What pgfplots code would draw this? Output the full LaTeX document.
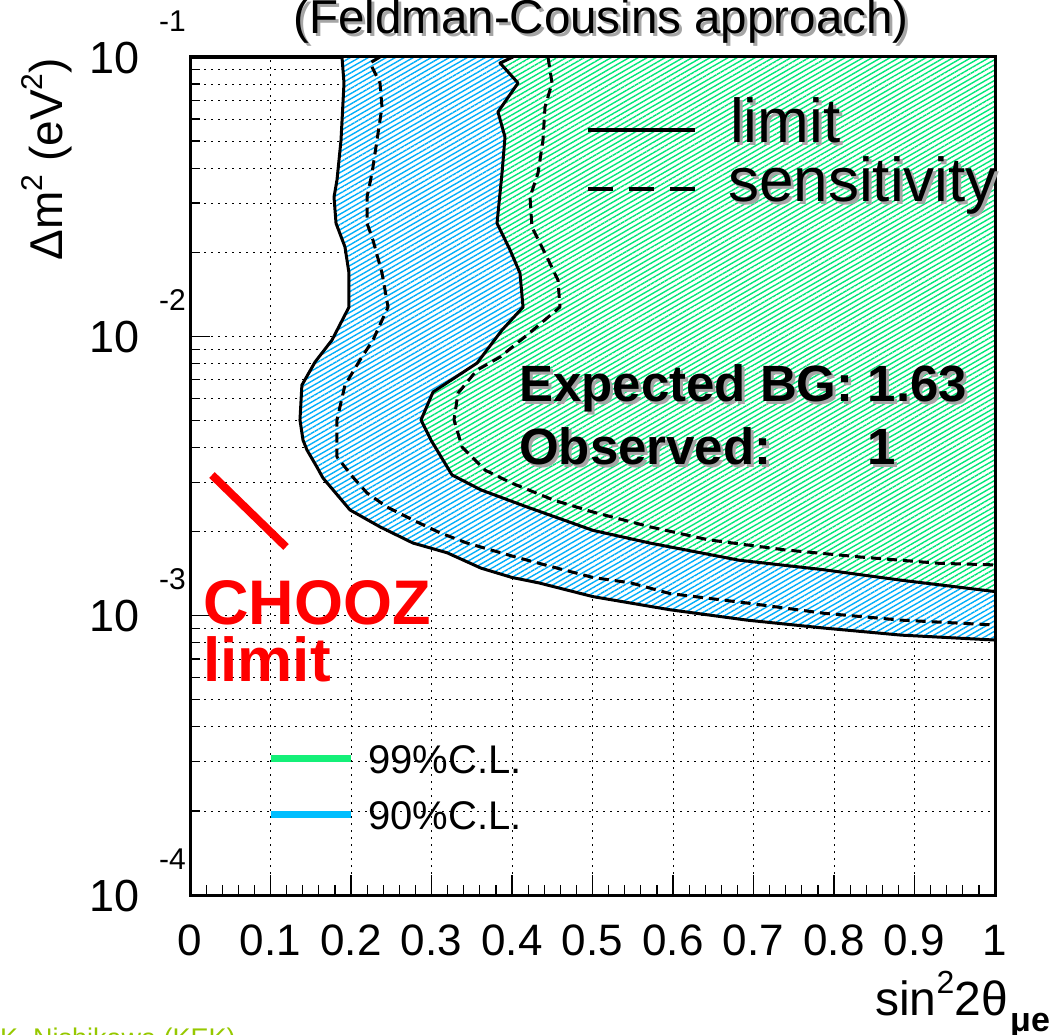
\documentclass[border=0pt]{standalone}
\usepackage{fontspec}
\setmainfont{Liberation Sans}
\usepackage{graphicx}
\usepackage{pgfplots}
\usepackage{pgfplotstable}
\pgfplotsset{compat=1.18}
\usetikzlibrary{patterns.meta}

\definecolor{hatchblue}{RGB}{0,175,250}
\definecolor{hatchgreen}{RGB}{0,232,120}
\definecolor{clblue}{RGB}{0,190,255}
\definecolor{clgreen}{RGB}{20,240,120}
\definecolor{shadowgray}{RGB}{165,165,165}
\definecolor{authorgreen}{RGB}{150,200,0}

\newcommand\fs[1]{\fontsize{#1}{#1}\selectfont}
% ROOT-style power-of-ten label: "10" with the exponent raised to the right
\newcommand\expo[1]{10\hspace{20pt}\raisebox{42pt}{\fs{30}#1}}

% 90% C.L. limit (first row closes the excluded region at the top-right corner)
\pgfplotstableread{
x y
1.0 0.1
0.1888 0.1
0.1913 0.0807
0.1876 0.0504
0.1826 0.0363
0.1789 0.0315
0.1814 0.0254
0.1925 0.0209
0.1975 0.01685
0.1975 0.01273
0.1764 0.0097
0.1553 0.00809
0.1390 0.00669
0.1366 0.00502
0.1404 0.00425
0.1453 0.00392
0.1578 0.0034
0.1652 0.00311
0.1988 0.00239
0.2360 0.00208
0.2770 0.00182
0.3193 0.00168
0.3615 0.00148
0.4000 0.00137
0.4335 0.00131
0.5006 0.00117
0.5963 0.00105
0.6919 0.000964
0.7876 0.000903
0.8832 0.000852
1.0 0.000818
}\limNinety

% 90% C.L. sensitivity
\pgfplotstableread{
x y
0.2360 0.1
0.2236 0.0952
0.2360 0.0807
0.2385 0.0662
0.2323 0.0504
0.2261 0.0384
0.2199 0.0315
0.2199 0.0254
0.2273 0.0221
0.2385 0.01685
0.2460 0.01273
0.2273 0.0097
0.2112 0.00823
0.1925 0.00669
0.1826 0.00502
0.1826 0.0037
0.2025 0.00313
0.2199 0.00275
0.2447 0.00245
0.2770 0.0022
0.3106 0.00198
0.3441 0.00182
0.4050 0.00162
0.4522 0.00149
0.5006 0.00137
0.5478 0.00131
0.5963 0.0012
0.6919 0.00111
0.7876 0.00102
0.8832 0.000964
1.0 0.000926
}\sensNinety

% 99% C.L. limit (first row closes the region)
\pgfplotstableread{
x y
1.0 0.1
0.4012 0.1
0.3851 0.0952
0.4075 0.0807
0.3826 0.0636
0.3913 0.0517
0.3876 0.0384
0.3814 0.0254
0.3975 0.0204
0.4099 0.01685
0.4137 0.01273
0.3876 0.01053
0.3565 0.00802
0.3019 0.00632
0.2870 0.00502
0.2994 0.00425
0.3255 0.00319
0.3615 0.00282
0.4186 0.00245
0.5006 0.00202
0.5714 0.00182
0.6820 0.00158
0.7876 0.00146
0.8832 0.00134
1.0 0.00122
}\limNinetyNine

% 99% C.L. sensitivity
\pgfplotstableread{
x y
0.4447 0.1
0.4497 0.0807
0.4410 0.0662
0.4385 0.0504
0.4323 0.0384
0.4224 0.0315
0.4248 0.0246
0.4435 0.0192
0.4571 0.0159
0.4596 0.01273
0.4186 0.0101
0.3851 0.00843
0.3565 0.00757
0.3329 0.00626
0.3280 0.00502
0.3379 0.00402
0.3665 0.00332
0.4000 0.00298
0.4522 0.00259
0.5006 0.00235
0.5714 0.00208
0.6435 0.00187
0.7391 0.00172
0.8348 0.00162
0.9304 0.00154
1.0 0.00152
}\sensNinetyNine

\begin{document}
\begin{tikzpicture}
\begin{axis}[
  at={(190pt,139pt)}, anchor=south west,
  scale only axis, width=805pt, height=838pt,
  xmin=0, xmax=1, ymin=1e-4, ymax=1e-1, ymode=log,
  xtick={0,0.1,0.2,0.3,0.4,0.5,0.6,0.7,0.8,0.9,1},
  xticklabels={0,0.1,0.2,0.3,0.4,0.5,0.6,0.7,0.8,0.9,1},
  minor x tick num=4,
  ytick={1e-4,1e-3,1e-2,1e-1},
  yticklabels={\expo{-4},\expo{-3},\expo{-2},\expo{-1}},
  minor ytick={2e-4,3e-4,4e-4,5e-4,6e-4,7e-4,8e-4,9e-4,
               2e-3,3e-3,4e-3,5e-3,6e-3,7e-3,8e-3,9e-3,
               2e-2,3e-2,4e-2,5e-2,6e-2,7e-2,8e-2,9e-2},
  tick pos=left, tick align=inside,
  major tick length=20pt, minor tick length=10pt,
  every tick/.append style={black, line width=1.2pt},
  xmajorgrids, ymajorgrids, yminorgrids,
  major grid style={black, line width=0.8pt, dash pattern=on 2pt off 5pt},
  minor grid style={black, line width=0.8pt, dash pattern=on 2pt off 5pt},
  axis line style={line width=3pt},
  xticklabel style={font=\fs{44}, anchor=north, inner sep=0pt, yshift=-30pt},
  yticklabel style={font=\fs{45}, anchor=base east, inner sep=0pt, xshift=-4pt, yshift=-16pt},
]
% excluded regions
\addplot[draw=none, fill=white,
  postaction={pattern={Lines[angle=30,distance=4.5pt,line width=1.4pt]}, pattern color=hatchblue}]
  table {\limNinety};
\addplot[draw=none, fill=white,
  postaction={pattern={Lines[angle=30,distance=4.5pt,line width=1.4pt]}, pattern color=hatchgreen}]
  table {\limNinetyNine};
% contours
\addplot[black, line width=3pt, line join=round, dash pattern=on 10pt off 6pt] table {\sensNinety};
\addplot[black, line width=3pt, line join=round, dash pattern=on 10pt off 6pt] table {\sensNinetyNine};
\addplot[black, line width=3pt, line join=round, skip coords between index={0}{1}] table {\limNinety};
\addplot[black, line width=3pt, line join=round, skip coords between index={0}{1}] table {\limNinetyNine};
\end{axis}

% frame
\draw[line width=3pt] (190pt,139pt) rectangle (995pt,977pt);

% title
\node[anchor=base, text=shadowgray, font=\fs{47.5}] at (604pt,997pt) {(Feldman-Cousins approach)};
\node[anchor=base, font=\fs{47.5}] at (601pt,1000pt) {(Feldman-Cousins approach)};

% axis titles
\node[rotate=90, anchor=base east, inner sep=0pt, font=\fs{46}] at (62pt,976pt)
  {Δm\raisebox{20pt}{\fs{30}2} (eV\raisebox{20pt}{\fs{30}2})};
\node[anchor=base east, inner sep=0pt, font=\fs{48}] at (1008pt,19pt)
  {sin\raisebox{22pt}{\fs{32}2}2θ};
\node[anchor=base west, inner sep=0pt, font=\bfseries\fs{34}] at (1010pt,3pt) {μe};

% line-style key
\draw[line width=4pt] (588pt,904pt) -- (695pt,904pt);
\draw[line width=4pt, dash pattern=on 25pt off 16pt] (588pt,845pt) -- (695pt,845pt);
\node[anchor=base west, inner sep=0pt, text=shadowgray, font=\fs{62}] at (733pt,888pt) {limit};
\node[anchor=base west, inner sep=0pt, font=\fs{62}] at (730pt,891pt) {limit};
\node[anchor=base west, inner sep=0pt, text=shadowgray, font=\fs{62}] at (731pt,829pt) {sensitivity};
\node[anchor=base west, inner sep=0pt, font=\fs{62}] at (728pt,832pt) {sensitivity};

% event counts
\node[anchor=base west, inner sep=0pt, text=shadowgray, font=\bfseries\fs{51}] at (522pt,629pt) {Expected BG: 1.63};
\node[anchor=base west, inner sep=0pt, font=\bfseries\fs{51}] at (519pt,632pt) {Expected BG: 1.63};
\node[anchor=base west, inner sep=0pt, text=shadowgray, font=\bfseries\fs{51}] at (522pt,566pt) {Observed:};
\node[anchor=base west, inner sep=0pt, font=\bfseries\fs{51}] at (519pt,569pt) {Observed:};
\node[anchor=base west, inner sep=0pt, text=shadowgray, font=\bfseries\fs{51}] at (870pt,566pt) {1};
\node[anchor=base west, inner sep=0pt, font=\bfseries\fs{51}] at (867pt,569pt) {1};

% CHOOZ
\draw[red, line width=8pt] (212pt,559pt) -- (286pt,487pt);
\node[anchor=base west, inner sep=0pt, text=red, font=\bfseries\fs{63}] at (203pt,409pt) {CHOOZ};
\node[anchor=base west, inner sep=0pt, text=red, font=\bfseries\fs{62}] at (203pt,352pt) {limit};

% confidence-level key
\draw[clgreen, line width=7pt] (271pt,276pt) -- (351pt,276pt);
\draw[clblue, line width=7pt] (271pt,220pt) -- (351pt,220pt);
\node[anchor=base west, inner sep=0pt, font=\fs{40}] at (368pt,261pt) {99\%C.L.};
\node[anchor=base west, inner sep=0pt, font=\fs{40}] at (368pt,205pt) {90\%C.L.};

% author
\node[anchor=base west, inner sep=0pt, text=authorgreen, font=\fs{27}] at (0pt,-13pt) {K. Nishikawa (KEK)};

\pgfresetboundingbox
\path[use as bounding box] (0pt,0pt) rectangle (1049pt,1034pt);
\end{tikzpicture}
\end{document}
